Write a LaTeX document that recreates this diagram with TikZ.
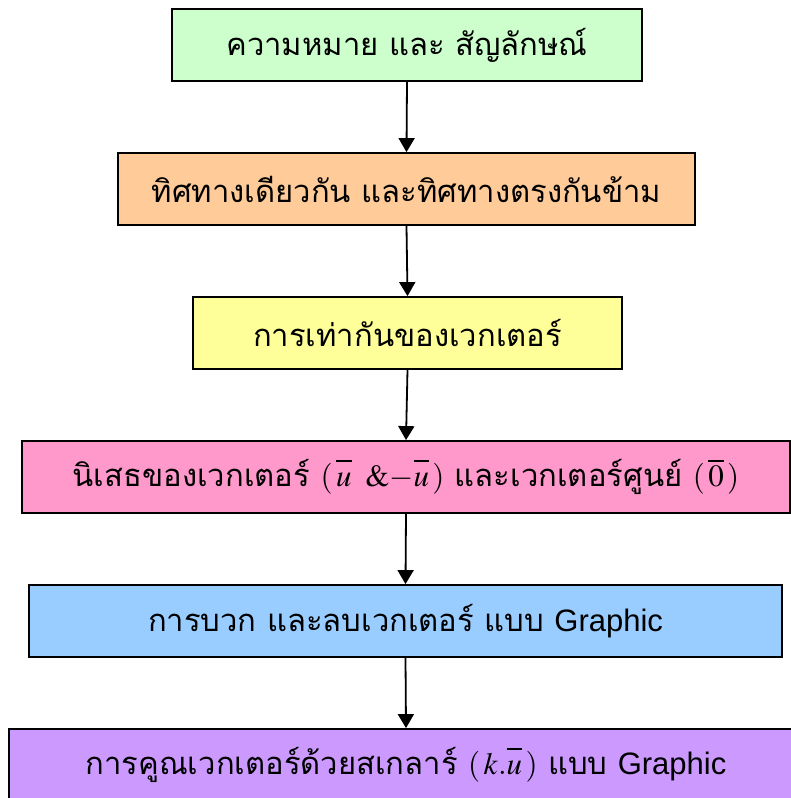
\documentclass[tikz,border=0pt]{standalone}
\usepackage{mathptmx}
\usepackage{fontspec}
\newfontfamily\thai[Script=Thai]{Loma}
\newfontfamily\latin{Liberation Sans}
\usetikzlibrary{arrows.meta}
\definecolor{cgreen}{HTML}{CCFFCC}
\definecolor{corange}{HTML}{FFCC99}
\definecolor{cyellow}{HTML}{FFFF99}
\definecolor{cpink}{HTML}{FF99CC}
\definecolor{cblue}{HTML}{99CCFF}
\definecolor{cpurple}{HTML}{CC99FF}
\newcommand{\vbar}[1]{\overline{\vphantom{l}#1}}
\tikzset{
  box/.style={draw=black, line width=1.8pt, minimum height=72pt, inner sep=0pt, font=\fontsize{31}{35}\selectfont\thai},
  arr/.style={line width=1.8pt, -{Triangle[length=14pt,width=16pt]}}
}
\begin{document}
\begin{tikzpicture}[x=1pt,y=-1pt]
\useasboundingbox (0,0) rectangle (791,798);
\clip (0,0) rectangle (791,798);
\node[box, fill=cgreen, minimum width=470pt] (b1) at (407,45) {ความหมาย และ สัญลักษณ์};
\node[box, fill=corange, minimum width=577pt] (b2) at (406.5,189) {ทิศทางเดียวกัน และทิศทางตรงกันข้าม};
\node[box, fill=cyellow, minimum width=429pt] (b3) at (407.5,333) {การเท่ากันของเวกเตอร์};
\node[box, fill=cpink, minimum width=768pt] (b4) at (406,477) {นิเสธของเวกเตอร์ $(\,\vbar{u}\;\;\&{-}\vbar{u}\,)$ และเวกเตอร์ศูนย์ $(\,\vbar{0}\,)$};
\node[box, fill=cblue, minimum width=753pt] (b5) at (405.5,621) {การบวก และลบเวกเตอร์ แบบ {\latin Graphic}};
\node[box, fill=cpurple, minimum width=794pt] (b6) at (406,765) {การคูณเวกเตอร์ด้วยสเกลาร์ $(\,k.\vbar{u}\,)$ แบบ {\latin Graphic}};
\draw[arr] (b1.south) -- (b2.north);
\draw[arr] (b2.south) -- (b3.north);
\draw[arr] (b3.south) -- (b4.north);
\draw[arr] (b4.south) -- (b5.north);
\draw[arr] (b5.south) -- (b6.north);
\end{tikzpicture}
\end{document}
